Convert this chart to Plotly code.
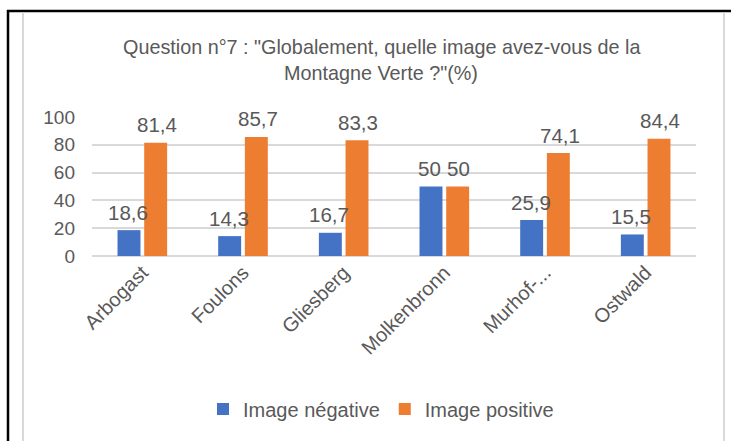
import plotly.graph_objects as go

# Survey results: "Globalement, quelle image avez-vous de la Montagne Verte ?" (%)
quartiers = ["Arbogast", "Foulons", "Gliesberg", "Molkenbronn", "Murhof-...", "Ostwald"]
image_negative = [18.6, 14.3, 16.7, 50, 25.9, 15.5]
image_positive = [81.4, 85.7, 83.3, 50, 74.1, 84.4]
y_ticks = [0, 20, 40, 60, 80, 100]

W, H = 731, 441
ML, MR, MT, MB = 92, 35, 117, 185
PW, PH = W - ML - MR, H - MT - MB

TEXT = "#595959"
FONT = "Liberation Sans, Arial, sans-serif"
BLUE = "#4472C4"
ORANGE = "#ED7D31"


def px_x(px):
    return (px - ML) / PW


def px_y(py):
    return (H - MB - py) / PH


def fmt(v):
    return f"{v:g}".replace(".", ",")


fig = go.Figure()
fig.add_trace(go.Bar(name="Image négative", x=quartiers, y=image_negative,
                     marker=dict(color=BLUE, line=dict(width=0))))
fig.add_trace(go.Bar(name="Image positive", x=quartiers, y=image_positive,
                     marker=dict(color=ORANGE, line=dict(width=0))))

# value labels above each bar, offset to the bar's slot in the group
annotations = []
for values, shift in ((image_negative, -14.5), (image_positive, 14.5)):
    for cat, v in zip(quartiers, values):
        annotations.append(dict(x=cat, y=v, xref="x", yref="y", text=fmt(v),
                                showarrow=False, xshift=shift, yshift=18,
                                yanchor="middle", xanchor="center",
                                font=dict(family=FONT, size=20.5, color=TEXT)))

# two-line title
for line, py in (('Question n°7 : "Globalement, quelle image avez-vous de la', 47),
                 ('Montagne Verte ?"(%)', 73)):
    annotations.append(dict(x=px_x(381), y=px_y(py), xref="paper", yref="paper",
                            text=line, showarrow=False, xanchor="center",
                            yanchor="middle",
                            font=dict(family=FONT, size=19.8, color=TEXT)))

# frame around the chart
shapes = [
    dict(type="line", xref="paper", yref="paper", x0=px_x(8), x1=px_x(8),
         y0=px_y(10), y1=px_y(450), line=dict(color="black", width=2.5)),
    dict(type="line", xref="paper", yref="paper", x0=px_x(7), x1=px_x(735),
         y0=px_y(11), y1=px_y(11), line=dict(color="black", width=2.5)),
    dict(type="line", xref="paper", yref="paper", x0=px_x(23), x1=px_x(23),
         y0=px_y(12.5), y1=px_y(450), line=dict(color="#d9d9d9", width=2)),
    dict(type="line", xref="paper", yref="paper", x0=px_x(724), x1=px_x(724),
         y0=px_y(12.5), y1=px_y(450), line=dict(color="#d9d9d9", width=2)),
]

fig.update_layout(
    width=W, height=H,
    margin=dict(l=ML, r=MR, t=MT, b=MB, pad=0),
    paper_bgcolor="white", plot_bgcolor="white",
    barmode="group", bargap=0.47, bargroupgap=0.14,
    font=dict(family=FONT, size=19, color=TEXT),
    showlegend=True,
    legend=dict(orientation="h", x=px_x(381), y=px_y(409), xanchor="center",
                yanchor="middle", font=dict(family=FONT, size=20, color=TEXT),
                itemclick=False),
    annotations=annotations,
    shapes=shapes,
)
fig.update_xaxes(tickangle=-45, showgrid=False, showline=False, ticks="",
                 tickfont=dict(family=FONT, size=20, color=TEXT))
fig.update_yaxes(range=[0, 100], tickvals=y_ticks, showgrid=True,
                 gridcolor="#d9d9d9", gridwidth=1.5, zeroline=True,
                 zerolinecolor="#d9d9d9", zerolinewidth=1.5, showline=False,
                 ticks="", ticklabelstandoff=16,
                 tickfont=dict(family=FONT, size=19, color=TEXT))

fig.write_html("out.html")
